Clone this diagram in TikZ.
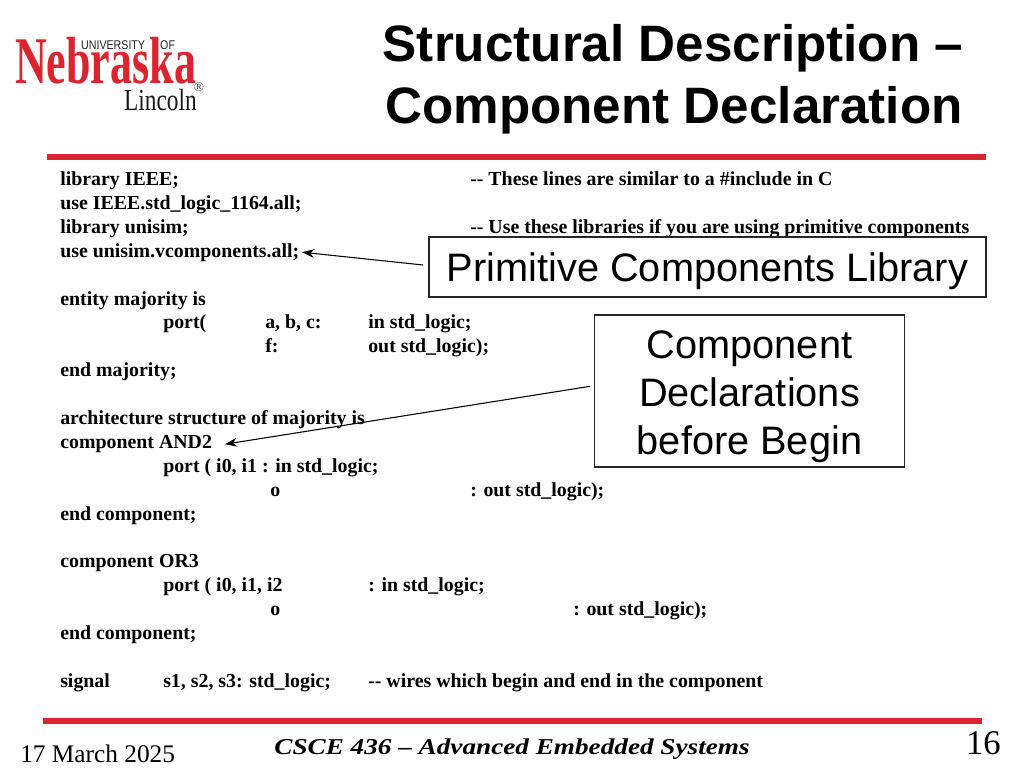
\documentclass[tikz,border=0pt]{standalone}
\usepackage{fontspec}
\usepackage{xcolor}
\setmainfont{Liberation Serif}
\setsansfont{Liberation Sans}
\usetikzlibrary{arrows.meta,positioning}
\definecolor{unlred}{HTML}{DC2430}
\tikzset{
  code/.style={anchor=base west,inner sep=0pt,font=\fontsize{14.9}{18}\selectfont\bfseries},
  titleline/.style={anchor=base,inner sep=0pt,font=\fontsize{38.4}{44}\selectfont\sffamily\bfseries},
  callout/.style={draw=black!85,thick,fill=white,inner sep=0pt,font=\fontsize{29.8}{36}\selectfont\sffamily,align=center},
  pointer/.style={draw=black,thick,-{Stealth[length=9pt,width=6.5pt]}},
  rulebar/.style={fill=unlred,draw=none},
}
\begin{document}
\begin{tikzpicture}[x=0.75pt,y=-0.75pt]
        \useasboundingbox (0,0) rectangle (1024,768);
        % logo
        \node[anchor=base west,inner sep=0pt,text=unlred,xscale=0.66,font=\fontsize{50}{50}\selectfont\bfseries] (neb) at (15,83) {Nebraska};
        \node[anchor=base west,inner sep=0pt,text=black!85,xscale=0.84,font=\fontsize{9.5}{10}\selectfont\sffamily] (univ) at (81,49) {UNIVERSITY};
        \node[anchor=base west,inner sep=0pt,text=black!85,xscale=0.84,font=\fontsize{9.5}{10}\selectfont\sffamily] (of) at (160,49) {OF};
        \node[anchor=base west,inner sep=0pt,text=black!90,xscale=0.76,font=\fontsize{23}{24}\selectfont] (linc) at (124,110) {Lincoln};
        \node[inner sep=0pt,text=black!75,font=\fontsize{10}{10}\selectfont] (reg) at (199,87) {®};
        % title
        \node[titleline] (title1) at (673,61) {Structural Description --};
        \node[titleline] (title2) at (674,123) {Component Declaration};
        \fill[rulebar] (47,154) rectangle (986,160);
        \fill[rulebar] (43,718) rectangle (982,724);
        % code
        \begin{scope}[every node/.style={code}]
          \node (l1) at (60,185) {library IEEE;};
          \node (l1c) at (470,185) {{-}{-} These lines are similar to a \#include in C};
          \node (l2) at (60,209) {use IEEE.std\_logic\_1164.all;};
          \node (l3) at (60,233) {library unisim;};
          \node (l3c) at (470,233) {{-}{-} Use these libraries if you are using primitive components};
          \node (l4) at (60,257) {use unisim.vcomponents.all;};
          \node (l6) at (60,305) {entity majority is};
          \node (l7a) at (163,328) {port(};
          \node (l7b) at (265,328) {a, b, c:};
          \node (l7c) at (368,328) {in std\_logic;};
          \node (l8b) at (265,352) {f:};
          \node (l8c) at (368,352) {out std\_logic);};
          \node (l9) at (60,376) {end majority;};
          \node (l11) at (60,424) {architecture structure of majority is};
          \node (l12) at (60,448) {component AND2};
          \node (l13) at (163,472) {port ( i0, i1 : in std\_logic;};
          \node (l14a) at (270,496) {o};
          \node (l14b) at (470,496) {: out std\_logic);};
          \node (l15) at (60,520) {end component;};
          \node (l17) at (60,567) {component OR3};
          \node (l18a) at (163,591) {port ( i0, i1, i2};
          \node (l18b) at (368,591) {: in std\_logic;};
          \node (l19a) at (270,615) {o};
          \node (l19b) at (573,615) {: out std\_logic);};
          \node (l20) at (60,639) {end component;};
          \node (l22a) at (60,687) {signal};
          \node (l22b) at (163,687) {s1, s2, s3: std\_logic;};
          \node (l22c) at (368,687) {{-}{-} wires which begin and end in the component};
        \end{scope}
        % callouts
        \node[callout,minimum width=557*0.75pt,minimum height=60*0.75pt] (primbox) at (707.5,267) {\rule{0pt}{28pt}Primitive Components Library};
        \node[callout,minimum width=310*0.75pt,minimum height=152*0.75pt] (compbox) at (749.5,391) {\rule{0pt}{30pt}Component\\Declarations\\before Begin};
        \path[pointer] ([xshift=-4pt,yshift=1.5pt]primbox.west) -- ([xshift=2pt]l4.east);
        \path[pointer] ([xshift=-3pt,yshift=3.5pt]compbox.west) -- ([xshift=9.5pt,yshift=-0.5pt]l12.east);
        % footer
        \node[anchor=base west,inner sep=0pt,font=\fontsize{19}{20}\selectfont] (date) at (20,762) {17 March 2025};
        \node[anchor=base,inner sep=0pt,xscale=1.2,font=\fontsize{17}{18}\selectfont\bfseries\itshape] (course) at (512,754) {CSCE 436 -- Advanced Embedded Systems};
        \node[anchor=base east,inner sep=0pt,font=\fontsize{26}{28}\selectfont] (pagenum) at (1001,754) {16};
      \end{tikzpicture}
\end{document}
